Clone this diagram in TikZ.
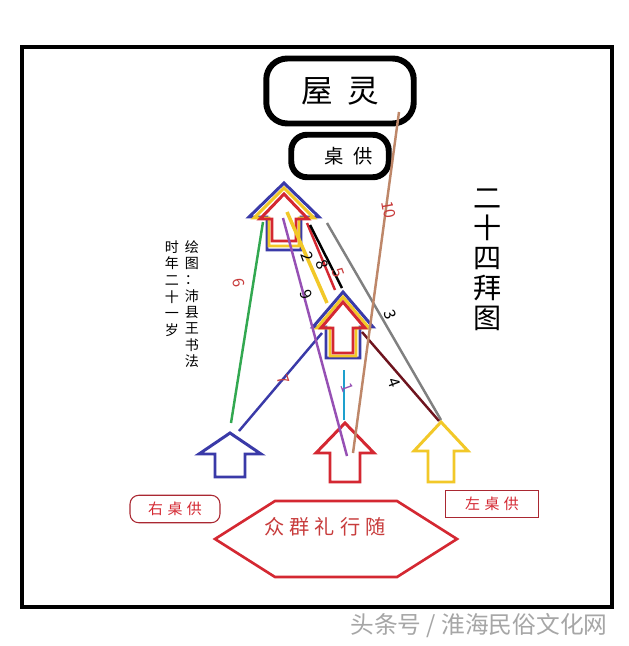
\documentclass[tikz,border=0pt]{standalone}
\usepackage{fontspec}
\setmainfont{Noto Sans CJK SC}
\usetikzlibrary{positioning}
\definecolor{jblue}{RGB}{58,58,168}
\definecolor{jred}{RGB}{212,40,50}
\definecolor{jyellow}{RGB}{242,200,40}
\definecolor{jgreen}{RGB}{50,168,80}
\definecolor{jpurple}{RGB}{150,80,180}
\definecolor{jgray}{RGB}{128,128,128}
\definecolor{jmaroon}{RGB}{110,20,30}
\definecolor{jbrown}{RGB}{190,135,105}
\definecolor{jcyan}{RGB}{30,160,205}
\definecolor{jtext}{RGB}{200,60,60}
\definecolor{jbox}{RGB}{170,40,50}
% apex x, apex y, head half width, head height, shaft half width, total height
\newcommand{\baijian}[7]{%
  \draw[#1] (#2,#3) -- ({#2+#4},{#3+#5}) -- ({#2+#6},{#3+#5}) -- ({#2+#6},{#3+#7})
    -- ({#2-#6},{#3+#7}) -- ({#2-#6},{#3+#5}) -- ({#2-#4},{#3+#5}) -- cycle;}
\begin{document}
\begin{tikzpicture}[x=0.02cm,y=-0.02cm]
\tikzstyle{kuang}=[draw,line width=3.4pt,rounded corners=12pt];
\tikzstyle{jian}=[line width=1.7pt,line join=miter];
\tikzstyle{xian}=[line width=1.4pt];
\tikzstyle{hao}=[font=\fontsize{9}{9}\selectfont,inner sep=0pt];
\useasboundingbox (0,0) rectangle (629,646);
\fill[white] (0,0) rectangle (629,646);
\draw[line width=2.4pt] (22,47) rectangle (612,607);
\node[kuang,minimum width=2.95cm,minimum height=1.3cm,font=\fontsize{18}{18}\selectfont] (wuling) at (340,91) {屋\hspace{0.45em}灵};
\node[kuang,minimum width=1.95cm,minimum height=0.85cm,rounded corners=9pt,font=\fontsize{11}{11}\selectfont] (zhuogong) at (340,156) {\hspace{0.9em}桌\hspace{0.5em}供};
\node[font=\fontsize{16}{17}\selectfont,align=center,inner sep=0pt] (baitu) at (488,260) {二\\十\\四\\拜\\图};
\node[font=\fontsize{8}{9.3}\selectfont,align=center,inner sep=0pt,anchor=north] (huitu) at (192,240) {绘\\图\\：\\沛\\县\\王\\书\\法};
\node[font=\fontsize{8}{9.5}\selectfont,align=center,inner sep=0pt,anchor=north] (shinian) at (172,240) {时\\年\\二\\十\\一\\岁};
\baijian{jian,jblue}{284}{183}{35}{34}{17}{67}
\baijian{jian,jyellow}{284}{188}{30}{30}{15}{58}
\baijian{jian,jred}{284}{194}{24}{25}{12}{47}
\baijian{jian,jblue}{343}{292}{30}{35}{17}{66}
\baijian{jian,jyellow}{343}{297}{26}{31}{13}{59}
\baijian{jian,jred}{343}{302}{22}{26}{10}{51}
\baijian{jian,jblue}{230}{433}{31}{21}{15}{44}
\baijian{jian,jred}{345}{423}{29}{30}{15}{59}
\baijian{jian,jyellow}{441}{422}{27}{29}{13}{60}
\coordinate (g1) at (231,423); \coordinate (g2) at (263,222);
\coordinate (b1) at (239,431); \coordinate (b2) at (322,333);
\coordinate (p1) at (283,218); \coordinate (p2) at (347,456);
\coordinate (y1) at (287,212); \coordinate (y2) at (327,303);
\coordinate (r1) at (307,223); \coordinate (r2) at (335,290);
\coordinate (k1) at (310,225); \coordinate (k2) at (342,288);
\coordinate (h1) at (327,223); \coordinate (h2) at (441,420);
\coordinate (m1) at (362,332); \coordinate (m2) at (439,421);
\coordinate (z1) at (399,112); \coordinate (z2) at (353,453);
\coordinate (c1) at (344,370); \coordinate (c2) at (344,420);
\draw[xian,jgreen] (g1) -- (g2);
\draw[xian,jblue] (b1) -- (b2);
\draw[xian,jyellow,line width=2pt] (y1) -- (y2);
\draw[xian,jred] (r1) -- (r2);
\draw[xian,black] (k1) -- (k2);
\draw[xian,jgray] (h1) -- (h2);
\draw[xian,jmaroon] (m1) -- (m2);
\draw[xian,jpurple] (p1) -- (p2);
\draw[xian,jbrown] (z1) -- (z2);
\draw[xian,jcyan] (c1) -- (c2);
\node[hao,jtext,rotate=-80] (n10) at (389,210) {10};
\node[hao,rotate=-70] (n2) at (307,257) {2};
\node[hao,rotate=-70] (n8) at (322,265) {8};
\node[hao,jtext,rotate=-70] (n5) at (338,273) {5};
\node[hao,rotate=-70] (n9) at (306,295) {9};
\node[hao,rotate=-70] (n3) at (390,315) {3};
\node[hao,rotate=-70] (n4) at (394,383) {4};
\node[hao,jtext,rotate=-70] (n7) at (283,380) {7};
\node[hao,jpurple,rotate=-70] (n1) at (347,388) {1};
\node[hao,jtext,rotate=-80] (n6) at (239,283) {6};
\node[draw=jbox,line width=0.6pt,rounded corners=5pt,minimum width=1.8cm,minimum height=0.55cm,font=\fontsize{8.5}{9}\selectfont,text=jred] (youzg) at (175,509) {右\hspace{0.3em}桌\hspace{0.3em}供};
\node[draw=jbox,line width=0.6pt,minimum width=1.86cm,minimum height=0.55cm,font=\fontsize{8.5}{9}\selectfont,text=jred] (zuozg) at (492,504) {左\hspace{0.3em}桌\hspace{0.3em}供};
\draw[jred,line width=1.5pt] (215,539) -- (275,501) -- (397,501) -- (457,539) -- (397,577) -- (275,577) -- cycle;
\node[font=\fontsize{11.5}{12}\selectfont,text=jtext] (suixing) at (325,527) {众\hspace{0.25em}群\hspace{0.25em}礼\hspace{0.25em}行\hspace{0.25em}随};
\node[font=\fontsize{13.5}{14}\selectfont,text=gray!70] (shuiyin) at (479,626) {头条号 / 淮海民俗文化网};
\end{tikzpicture}
\end{document}
